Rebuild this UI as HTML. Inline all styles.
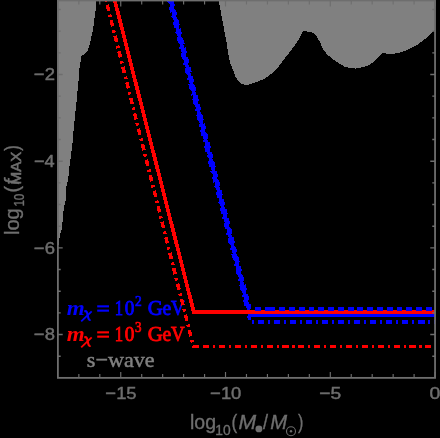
<!DOCTYPE html>
<html><head><meta charset="utf-8"><title>plot</title>
<style>html,body{margin:0;padding:0;background:#000;}svg{display:block;will-change:transform;}</style></head>
<body>
<svg width="440" height="438" viewBox="0 0 440 438">
<rect width="440" height="438" fill="#000"/>
<polygon points="57.9,0.0 96.1,0.0 96.0,4.0 95.8,8.2 95.0,15.1 94.0,21.9 93.1,28.8 91.7,35.6 90.3,41.8 88.6,47.9 87.9,50.7 81.0,56.8 80.8,60.0 79.7,66.0 78.4,82.4 76.6,100.7 74.7,118.9 73.6,130.0 72.5,142.8 71.2,154.0 69.9,163.6 68.8,170.0 68.4,178.2 66.3,186.4 65.6,200.1 63.6,209.7 62.5,222.0 61.5,230.0 59.9,235.6 58.9,242.5 57.9,248.0" fill="#808080" shape-rendering="crispEdges"/>
<polygon points="218.6,0.0 218.9,1.4 223.7,27.4 226.2,40.0 227.3,48.2 228.7,56.4 230.3,63.3 232.8,69.5 235.5,77.0 238.3,81.1 241.7,83.8 246.5,85.2 252.0,83.6 258.8,81.1 264.3,78.8 269.8,74.9 275.0,70.8 278.7,66.4 285.5,57.5 292.4,48.6 299.2,39.0 301.3,34.9 303.1,31.0 306.1,31.4 310.2,32.1 313.6,32.8 316.4,36.2 319.8,41.7 323.2,49.5 327.7,55.0 333.2,59.5 338.6,63.2 345.0,66.8 351.4,68.1 355.9,68.6 362.3,67.2 368.6,65.4 373.2,62.3 377.7,57.7 381.9,53.1 388.3,53.7 394.2,53.7 400.1,52.4 406.0,50.5 411.9,47.8 417.8,44.5 423.7,40.1 428.9,35.7 434.1,30.5 435.1,29.5 435.1,0.0" fill="#808080" shape-rendering="crispEdges"/>
<text transform="translate(66.66,314.50) scale(1.075,1)" font-family="'Liberation Serif', serif" font-size="21.5" font-style="italic" font-weight="bold" fill="#0000ff">m</text>
<g transform="translate(0,0.00)" fill="none" stroke="#0000ff" stroke-linecap="butt"><path d="M81.2 321.4L91.7 311.3" stroke-width="1.8"/><path d="M84.3 311.6C86.6 310.2 87.2 312.6 87.7 315.2S88.6 320.9 90.6 319.6" stroke-width="2.1"/></g>
<rect x="97.2" y="305.30" width="11.8" height="2.1" fill="#0000ff"/><rect x="97.2" y="309.60" width="11.8" height="2.1" fill="#0000ff"/>
<text transform="translate(114.84,314.50) scale(0.776,1)" font-family="'Liberation Serif', serif" font-size="21.5" fill="#0000ff" stroke="#0000ff" stroke-width="0.9">1</text>
<text transform="translate(124.78,314.50) scale(0.898,1)" font-family="'Liberation Serif', serif" font-size="21.5" fill="#0000ff" stroke="#0000ff" stroke-width="0.9">0</text>
<text transform="translate(135.06,305.60) scale(0.976,1)" font-family="'Liberation Serif', serif" font-size="13.8" fill="#0000ff" stroke="#0000ff" stroke-width="0.7200000000000001">2</text>
<text transform="translate(147.71,314.50) scale(0.976,1)" font-family="'Liberation Serif', serif" font-size="21.5" fill="#0000ff" stroke="#0000ff" stroke-width="0.9">G</text>
<text transform="translate(162.47,314.50) scale(0.911,1)" font-family="'Liberation Serif', serif" font-size="21.5" fill="#0000ff" stroke="#0000ff" stroke-width="0.9">e</text>
<text transform="translate(171.02,314.50) scale(0.881,1)" font-family="'Liberation Serif', serif" font-size="21.5" fill="#0000ff" stroke="#0000ff" stroke-width="0.9">V</text>
<text transform="translate(66.66,340.50) scale(1.075,1)" font-family="'Liberation Serif', serif" font-size="21.5" font-style="italic" font-weight="bold" fill="#ff0000">m</text>
<g transform="translate(0,26.00)" fill="none" stroke="#ff0000" stroke-linecap="butt"><path d="M81.2 321.4L91.7 311.3" stroke-width="1.8"/><path d="M84.3 311.6C86.6 310.2 87.2 312.6 87.7 315.2S88.6 320.9 90.6 319.6" stroke-width="2.1"/></g>
<rect x="97.2" y="331.30" width="11.8" height="2.1" fill="#ff0000"/><rect x="97.2" y="335.60" width="11.8" height="2.1" fill="#ff0000"/>
<text transform="translate(114.84,340.50) scale(0.776,1)" font-family="'Liberation Serif', serif" font-size="21.5" fill="#ff0000" stroke="#ff0000" stroke-width="0.9">1</text>
<text transform="translate(124.78,340.50) scale(0.898,1)" font-family="'Liberation Serif', serif" font-size="21.5" fill="#ff0000" stroke="#ff0000" stroke-width="0.9">0</text>
<text transform="translate(135.07,331.60) scale(0.938,1)" font-family="'Liberation Serif', serif" font-size="13.8" fill="#ff0000" stroke="#ff0000" stroke-width="0.7200000000000001">3</text>
<text transform="translate(147.71,340.50) scale(0.976,1)" font-family="'Liberation Serif', serif" font-size="21.5" fill="#ff0000" stroke="#ff0000" stroke-width="0.9">G</text>
<text transform="translate(162.47,340.50) scale(0.911,1)" font-family="'Liberation Serif', serif" font-size="21.5" fill="#ff0000" stroke="#ff0000" stroke-width="0.9">e</text>
<text transform="translate(171.02,340.50) scale(0.881,1)" font-family="'Liberation Serif', serif" font-size="21.5" fill="#ff0000" stroke="#ff0000" stroke-width="0.9">V</text>
<text transform="translate(86.83,366.90) scale(1.025,1)" font-family="'Liberation Serif', serif" font-size="21.6" fill="#808080" stroke="#808080" stroke-width="0.45">s−wave</text>
<path d="M170.30 0.00 L250.05 315.10 L435.05 315.10" fill="none" shape-rendering="crispEdges" stroke="#0000ff" stroke-width="3.6" stroke-linejoin="miter"/>
<path d="M168.95 0.00 L249.89 319.80" fill="none" shape-rendering="crispEdges" stroke="#0000ff" stroke-width="3.6" stroke-linejoin="miter" stroke-dasharray="2.1 3.9 6.1 3.85" stroke-dashoffset="-0.52"/>
<path d="M251.90 321.90 L435.05 321.90" fill="none" shape-rendering="crispEdges" stroke="#0000ff" stroke-width="3.7" stroke-linejoin="miter" stroke-dasharray="2 4 6.1 3.95" stroke-dashoffset="0.00"/>
<path d="M106.00 0.00 L193.40 346.40 L198.70 346.40" fill="none" shape-rendering="crispEdges" stroke="#ff0000" stroke-width="3.5" stroke-linejoin="miter" stroke-dasharray="6.3 3.8 2.6 3.28" stroke-dashoffset="11.03"/>
<path d="M203.00 346.40 L435.05 346.40" fill="none" shape-rendering="crispEdges" stroke="#ff0000" stroke-width="3.2" stroke-linejoin="miter" stroke-dasharray="6.1 3.9 2.1 3.78" stroke-dashoffset="0.00"/>
<path d="M114.70 0.00 L193.79 312.00 L435.05 312.00" fill="none" shape-rendering="crispEdges" stroke="#ff0000" stroke-width="3.7" stroke-linejoin="miter"/>
<path d="M171.65 0.00 L249.83 308.90" fill="none" shape-rendering="crispEdges" stroke="#0000ff" stroke-width="3.6" stroke-linejoin="miter" stroke-dasharray="5.9 3.88" stroke-dashoffset="-0.46"/>
<path d="M254.8 308.9H261.2M265 308.9H274.7M278.8 308.9H284.5" stroke="#0000ff" stroke-width="3.7" fill="none" shape-rendering="crispEdges"/>
<path d="M289.00 308.90 L435.05 308.90" fill="none" shape-rendering="crispEdges" stroke="#0000ff" stroke-width="3.7" stroke-linejoin="miter" stroke-dasharray="5.9 3.88" stroke-dashoffset="0.00"/>
<g stroke="#6e6e6e" stroke-width="1.8" fill="none">
<rect x="57.90" y="0.5" width="377.15" height="377.38"/>
<path d="M78.85 377.88v-4.0M78.85 0.5v4.0" stroke-width="1.15"/>
<path d="M99.80 377.88v-4.0M99.80 0.5v4.0" stroke-width="1.15"/>
<path d="M120.75 377.88v-6.0M120.75 0.5v6.0" stroke-width="1.15"/>
<path d="M141.71 377.88v-4.0M141.71 0.5v4.0" stroke-width="1.15"/>
<path d="M162.66 377.88v-4.0M162.66 0.5v4.0" stroke-width="1.15"/>
<path d="M183.61 377.88v-4.0M183.61 0.5v4.0" stroke-width="1.15"/>
<path d="M204.57 377.88v-4.0M204.57 0.5v4.0" stroke-width="1.15"/>
<path d="M225.52 377.88v-6.0M225.52 0.5v6.0" stroke-width="1.15"/>
<path d="M246.47 377.88v-4.0M246.47 0.5v4.0" stroke-width="1.15"/>
<path d="M267.43 377.88v-4.0M267.43 0.5v4.0" stroke-width="1.15"/>
<path d="M288.38 377.88v-4.0M288.38 0.5v4.0" stroke-width="1.15"/>
<path d="M309.33 377.88v-4.0M309.33 0.5v4.0" stroke-width="1.15"/>
<path d="M330.29 377.88v-6.0M330.29 0.5v6.0" stroke-width="1.15"/>
<path d="M351.24 377.88v-4.0M351.24 0.5v4.0" stroke-width="1.15"/>
<path d="M372.19 377.88v-4.0M372.19 0.5v4.0" stroke-width="1.15"/>
<path d="M393.14 377.88v-4.0M393.14 0.5v4.0" stroke-width="1.15"/>
<path d="M414.10 377.88v-4.0M414.10 0.5v4.0" stroke-width="1.15"/>
<path d="M435.05 377.88v-6.0M435.05 0.5v6.0" stroke-width="1.15"/>
<path d="M57.90 9.49h2.8M435.05 9.49h-2.8" stroke-width="1.4"/>
<path d="M57.90 31.16h2.8M435.05 31.16h-2.8" stroke-width="1.4"/>
<path d="M57.90 52.83h2.8M435.05 52.83h-2.8" stroke-width="1.4"/>
<path d="M57.90 74.50h4.8M435.05 74.50h-4.8" stroke-width="1.4"/>
<path d="M57.90 96.17h2.8M435.05 96.17h-2.8" stroke-width="1.4"/>
<path d="M57.90 117.84h2.8M435.05 117.84h-2.8" stroke-width="1.4"/>
<path d="M57.90 139.51h2.8M435.05 139.51h-2.8" stroke-width="1.4"/>
<path d="M57.90 161.18h4.8M435.05 161.18h-4.8" stroke-width="1.4"/>
<path d="M57.90 182.85h2.8M435.05 182.85h-2.8" stroke-width="1.4"/>
<path d="M57.90 204.52h2.8M435.05 204.52h-2.8" stroke-width="1.4"/>
<path d="M57.90 226.19h2.8M435.05 226.19h-2.8" stroke-width="1.4"/>
<path d="M57.90 247.86h4.8M435.05 247.86h-4.8" stroke-width="1.4"/>
<path d="M57.90 269.53h2.8M435.05 269.53h-2.8" stroke-width="1.4"/>
<path d="M57.90 291.20h2.8M435.05 291.20h-2.8" stroke-width="1.4"/>
<path d="M57.90 312.87h2.8M435.05 312.87h-2.8" stroke-width="1.4"/>
<path d="M57.90 334.54h4.8M435.05 334.54h-4.8" stroke-width="1.4"/>
<path d="M57.90 356.21h2.8M435.05 356.21h-2.8" stroke-width="1.4"/>
</g>
<text transform="translate(105.37,398.90) scale(1.060,1)" font-family="'Liberation Sans', sans-serif" font-size="17.4" fill="#6e6e6e" stroke="#6e6e6e" stroke-width="0.45">−15</text>
<text transform="translate(210.12,398.90) scale(1.060,1)" font-family="'Liberation Sans', sans-serif" font-size="17.4" fill="#6e6e6e" stroke="#6e6e6e" stroke-width="0.45">−10</text>
<text transform="translate(319.33,398.90) scale(1.109,1)" font-family="'Liberation Sans', sans-serif" font-size="17.4" fill="#6e6e6e" stroke="#6e6e6e" stroke-width="0.45">−5</text>
<text transform="translate(429.59,398.90) scale(1.120,1)" font-family="'Liberation Sans', sans-serif" font-size="17.4" fill="#6e6e6e" stroke="#6e6e6e" stroke-width="0.45">0</text>
<text transform="translate(33.87,80.45) scale(1.061,1)" font-family="'Liberation Sans', sans-serif" font-size="17.4" fill="#6e6e6e" stroke="#6e6e6e" stroke-width="0.45">−2</text>
<text transform="translate(33.88,167.13) scale(1.047,1)" font-family="'Liberation Sans', sans-serif" font-size="17.4" fill="#6e6e6e" stroke="#6e6e6e" stroke-width="0.45">−4</text>
<text transform="translate(33.87,253.81) scale(1.061,1)" font-family="'Liberation Sans', sans-serif" font-size="17.4" fill="#6e6e6e" stroke="#6e6e6e" stroke-width="0.45">−6</text>
<text transform="translate(33.87,340.49) scale(1.061,1)" font-family="'Liberation Sans', sans-serif" font-size="17.4" fill="#6e6e6e" stroke="#6e6e6e" stroke-width="0.45">−8</text>
<text transform="translate(189.99,428.80) scale(1.006,1)" font-family="'Liberation Sans', sans-serif" font-size="19.4" fill="#6e6e6e" stroke="#6e6e6e" stroke-width="0.35">log</text>
<text transform="translate(215.26,434.80) scale(0.986,1)" font-family="'Liberation Sans', sans-serif" font-size="14" fill="#6e6e6e" stroke="#6e6e6e" stroke-width="0.35">10</text>
<text transform="translate(231.51,428.80) scale(0.887,1)" font-family="'Liberation Sans', sans-serif" font-size="19.4" fill="#6e6e6e" stroke="#6e6e6e" stroke-width="0.35">(</text>
<text transform="translate(238.45,428.80) scale(1.094,1)" font-family="'Liberation Sans', sans-serif" font-size="19.4" font-style="italic" fill="#6e6e6e" stroke="#6e6e6e" stroke-width="0.35">M</text>
<circle cx="258.9" cy="428.9" r="3.45" fill="#6e6e6e"/>
<text transform="translate(263.03,428.80) scale(0.933,1)" font-family="'Liberation Sans', sans-serif" font-size="19.4" fill="#6e6e6e" stroke="#6e6e6e" stroke-width="0.35">/</text>
<text transform="translate(270.28,428.80) scale(1.044,1)" font-family="'Liberation Sans', sans-serif" font-size="19.4" font-style="italic" fill="#6e6e6e" stroke="#6e6e6e" stroke-width="0.35">M</text>
<circle cx="291" cy="431.2" r="4.5" fill="none" stroke="#6e6e6e" stroke-width="1.1"/><circle cx="291" cy="431.2" r="1.2" fill="#6e6e6e"/>
<text transform="translate(298.01,428.80) scale(0.835,1)" font-family="'Liberation Sans', sans-serif" font-size="19.4" fill="#6e6e6e" stroke="#6e6e6e" stroke-width="0.35">)</text>
<g transform="translate(18.9,235) rotate(-90)">
<text transform="translate(-0.04,0.00) scale(1.036,1)" font-family="'Liberation Sans', sans-serif" font-size="19.4" fill="#6e6e6e" stroke="#6e6e6e" stroke-width="0.35">log</text>
<text transform="translate(28.38,5.10) scale(0.828,1)" font-family="'Liberation Sans', sans-serif" font-size="14" fill="#6e6e6e" stroke="#6e6e6e" stroke-width="0.35">10</text>
<text transform="translate(42.59,0.00) scale(1.009,1)" font-family="'Liberation Sans', sans-serif" font-size="19.4" fill="#6e6e6e" stroke="#6e6e6e" stroke-width="0.35">(</text>
<text transform="translate(50.17,0.00) scale(1.052,1)" font-family="'Liberation Sans', sans-serif" font-size="19.4" font-style="italic" fill="#6e6e6e" stroke="#6e6e6e" stroke-width="0.35">f</text>
<text transform="translate(50.51,2.40) scale(1.047,1)" font-family="'Liberation Sans', sans-serif" font-size="14.5" fill="#6e6e6e" stroke="#6e6e6e" stroke-width="0.55">MAX</text>
<text transform="translate(84.31,0.00) scale(0.852,1)" font-family="'Liberation Sans', sans-serif" font-size="19.4" fill="#6e6e6e" stroke="#6e6e6e" stroke-width="0.35">)</text>
</g>
</svg>
</body></html>
